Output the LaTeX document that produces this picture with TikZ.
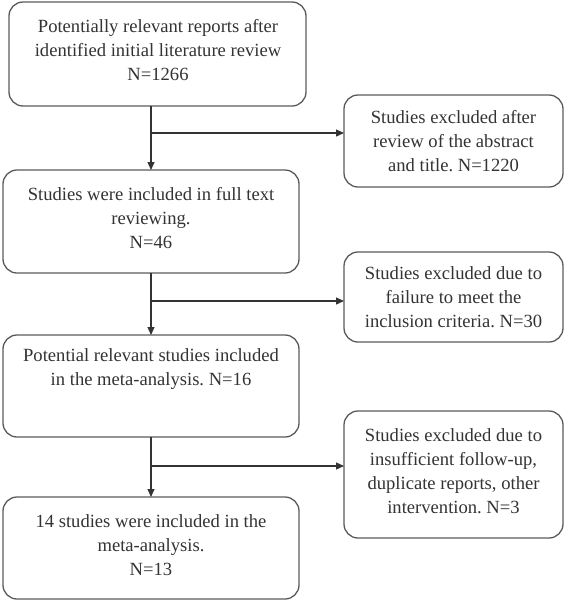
\documentclass[tikz,border=0pt]{standalone}
\usepackage{fontspec}
\setmainfont{Liberation Serif}
\usetikzlibrary{arrows.meta,calc}
\definecolor{linegray}{HTML}{5A5A5A}
\definecolor{textgray}{HTML}{333333}
\frenchspacing
\begin{document}
\begin{tikzpicture}[x=1pt,y=-1pt,
  box/.style={draw=linegray,line width=1.3pt,rounded corners=14pt,inner sep=0pt,outer sep=0pt},
  lbl/.style={align=center,text=textgray,font=\fontsize{18.6}{24}\selectfont,inner sep=0pt},
  arr/.style={draw=black!80,line width=1.2pt,-{Triangle[length=8pt,width=7pt]}},
  ln/.style={draw=black!80,line width=1.2pt}]
\useasboundingbox (0,0) rectangle (567,603);
% left column boxes
\node[box,minimum width=297pt,minimum height=104pt] (b1) at (157.5,54) {};
\node[box,minimum width=296pt,minimum height=103pt] (b2) at (151,221.5) {};
\node[box,minimum width=296pt,minimum height=102pt] (b3) at (151,386) {};
\node[box,minimum width=296pt,minimum height=102pt] (b4) at (151,548) {};
% right column boxes
\node[box,minimum width=219pt,minimum height=92pt] (r1) at (453.5,141) {};
\node[box,minimum width=219pt,minimum height=90pt] (r2) at (453.5,297) {};
\node[box,minimum width=219pt,minimum height=127pt] (r3) at (453.5,474.5) {};
% labels
\node[lbl] (t1) at (158,50) {Potentially relevant reports after\\identified initial literature review\\N=1266};
\node[lbl] (t2) at (151,218) {Studies were included in full text\\reviewing.\\N=46};
\node[lbl] (t3) at (151,369.5) {Potential relevant studies included\\in the meta-analysis. N=16};
\node[lbl] (t4) at (151,545) {14 studies were included in the\\meta-analysis.\\N=13};
\node[lbl] (s1) at (453.5,141.5) {Studies excluded after\\review of the abstract\\and title. N=1220};
\node[lbl] (s2) at (453.5,297.5) {Studies excluded due to\\failure to meet the\\inclusion criteria. N=30};
\node[lbl] (s3) at (453.5,471.5) {Studies excluded due to\\insufficient follow-up,\\duplicate reports, other\\intervention. N=3};
% junction points
\coordinate (j1) at (151,133);
\coordinate (j2) at (151,301);
\coordinate (j3) at (151,466);
% connectors
\draw[arr] (b2.north |- b1.south) -- (b2.north);
\draw[arr] (j1) -- (j1 -| r1.west);
\draw[arr] (b3.north |- b2.south) -- (b3.north);
\draw[arr] (j2) -- (j2 -| r2.west);
\draw[arr] (b4.north |- b3.south) -- (b4.north);
\draw[arr] (j3) -- (j3 -| r3.west);
\end{tikzpicture}
\end{document}
